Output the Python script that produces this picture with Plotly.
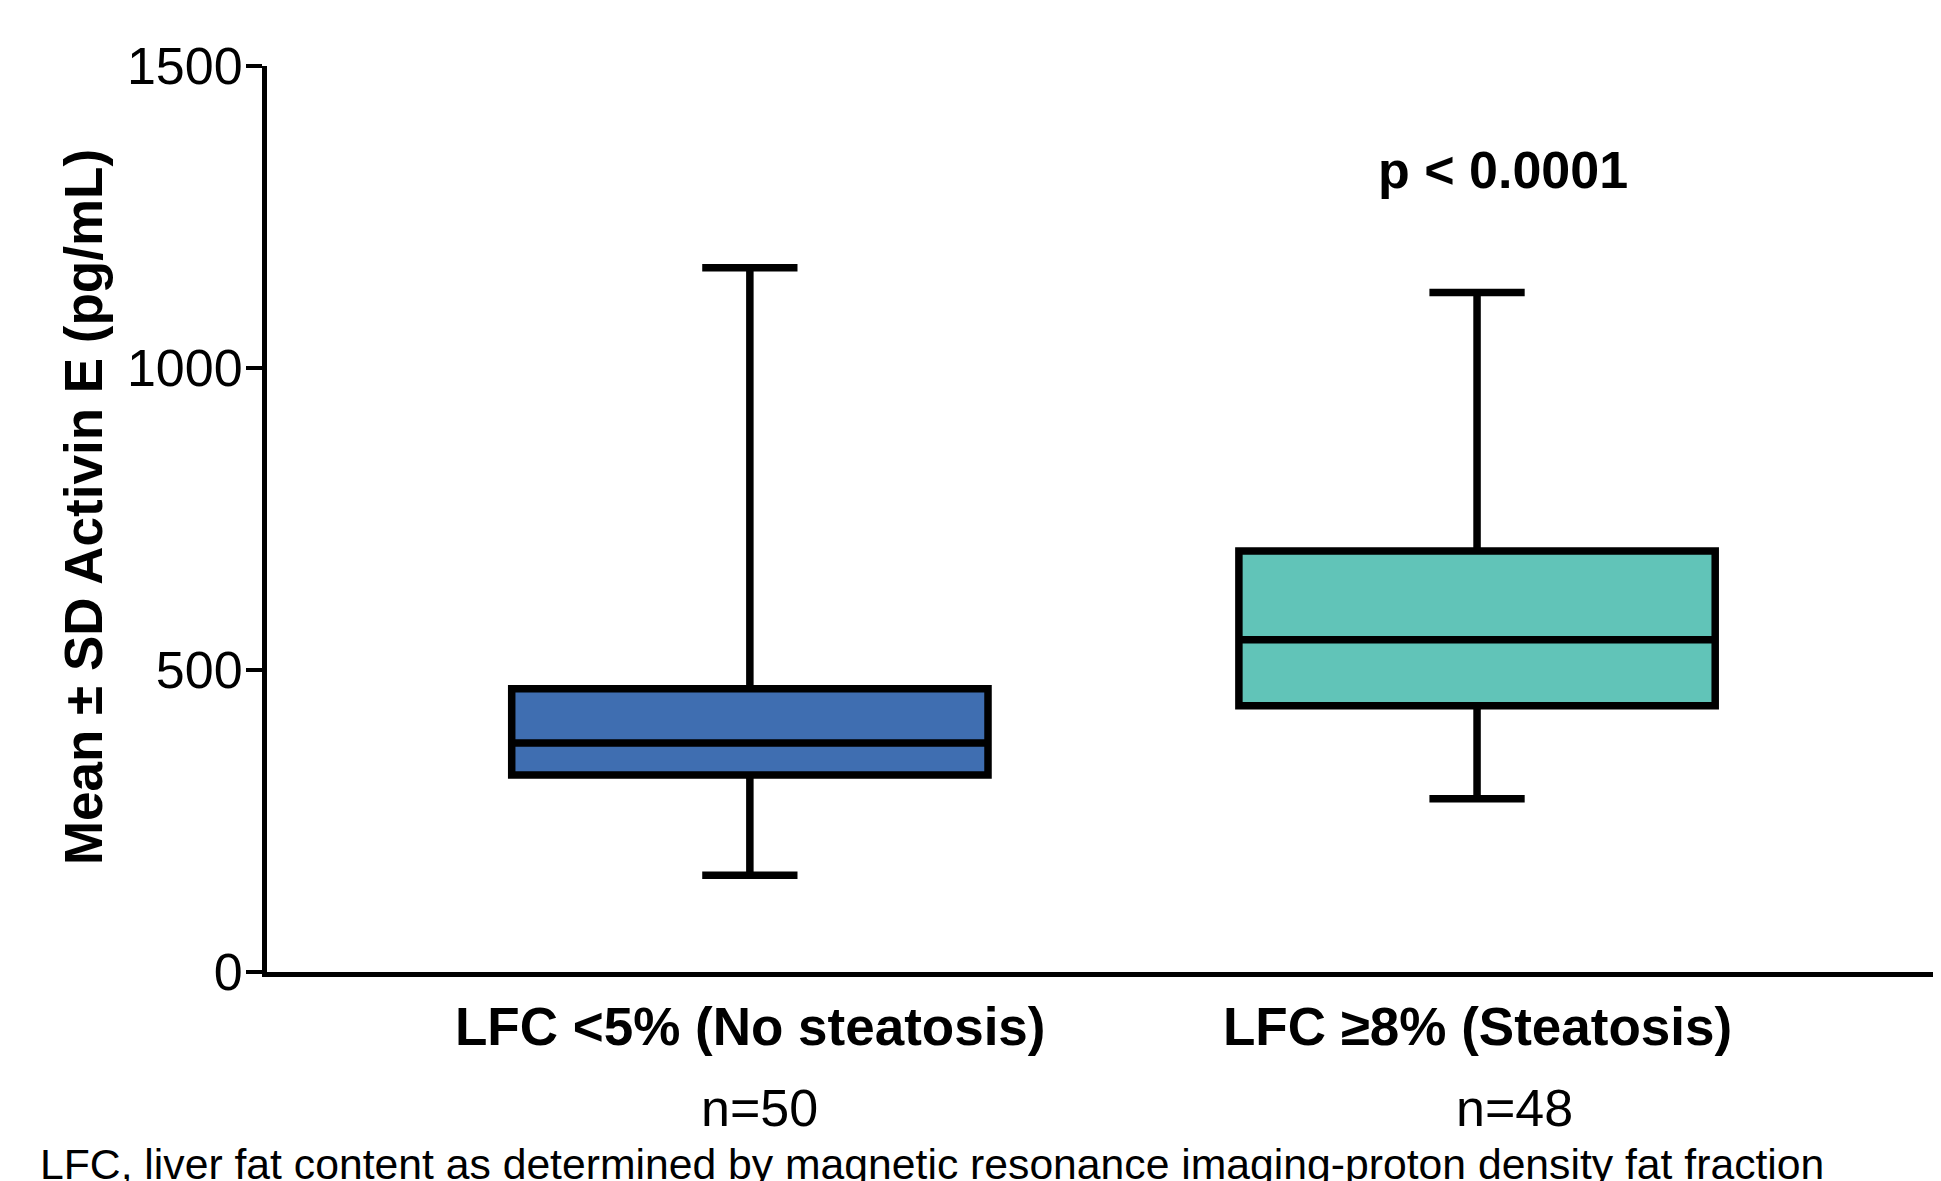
import plotly.graph_objects as go

# ---- data ----
groups = ["LFC <5% (No steatosis)", "LFC ≥8% (Steatosis)"]
n_labels = ["n=50", "n=48"]
x_pos = [0, 1]
n_label_x = [0.013, 1.051]
lower = [160, 287]
q1 = [326, 441]
median = [379, 550]
q3 = [469, 697]
upper = [1166, 1125]
colors = ["#3F6EB1", "#61C4B8"]
y_ticks = [0, 500, 1000, 1500]
p_text = "p < 0.0001"
p_pos = (1.035, 1327)
y_title = "Mean ± SD Activin E (pg/mL)"
footnote = "LFC, liver fat content as determined by magnetic resonance imaging-proton density fat fraction"

FONT = "Liberation Sans, Arial, Helvetica, sans-serif"

fig = go.Figure()
for i in range(len(groups)):
    fig.add_trace(go.Box(
        x=[x_pos[i]],
        q1=[q1[i]], median=[median[i]], q3=[q3[i]],
        lowerfence=[lower[i]], upperfence=[upper[i]],
        width=0.655,
        whiskerwidth=0.2,
        fillcolor=colors[i],
        line=dict(color="black", width=7.5),
        boxpoints=False,
        hoverinfo="skip",
        showlegend=False,
        name=groups[i],
    ))

annotations = []
for i in range(len(groups)):
    annotations.append(dict(
        x=x_pos[i], xref="x", y=-0.0607, yref="paper",
        text="<b>" + groups[i].replace("<", "&lt;") + "</b>",
        showarrow=False, xanchor="center", yanchor="middle",
        font=dict(family=FONT, size=53, color="black"),
    ))
    annotations.append(dict(
        x=n_label_x[i], xref="x", y=-0.150, yref="paper",
        text=n_labels[i],
        showarrow=False, xanchor="center", yanchor="middle",
        font=dict(family=FONT, size=52, color="black"),
    ))

annotations.append(dict(
    x=p_pos[0], xref="x", y=p_pos[1], yref="y",
    text="<b>" + p_text.replace("<", "&lt;") + "</b>",
    showarrow=False, xanchor="center", yanchor="middle",
    font=dict(family=FONT, size=52, color="black"),
))
annotations.append(dict(
    x=-0.110, xref="paper", y=0.513, yref="paper",
    text="<b>" + y_title + "</b>", textangle=-90,
    showarrow=False, xanchor="center", yanchor="middle",
    font=dict(family=FONT, size=53, color="black"),
))
annotations.append(dict(
    x=-0.1368, xref="paper", y=-0.212, yref="paper",
    text=footnote,
    showarrow=False, xanchor="left", yanchor="middle",
    font=dict(family=FONT, size=42.7, color="black"),
))

# page body has an 8px default margin; compensate so the plot area sits where the reference has it
fig.update_layout(
    width=1933, height=1173,
    margin=dict(l=259, r=0, t=58, b=209),
    paper_bgcolor="white", plot_bgcolor="white",
    annotations=annotations,
    xaxis=dict(
        range=[-0.664, 1.638], showgrid=False, zeroline=False,
        showline=True, linecolor="black", linewidth=5,
        showticklabels=False, ticks="",
    ),
    yaxis=dict(
        range=[0, 1500], tickvals=y_ticks, showgrid=False, zeroline=False,
        showline=True, linecolor="black", linewidth=5,
        ticks="outside", ticklen=16, tickwidth=4, tickcolor="black",
        ticklabelstandoff=-7,
        tickfont=dict(family=FONT, size=52, color="black"),
    ),
)

fig.write_html("out.html")
